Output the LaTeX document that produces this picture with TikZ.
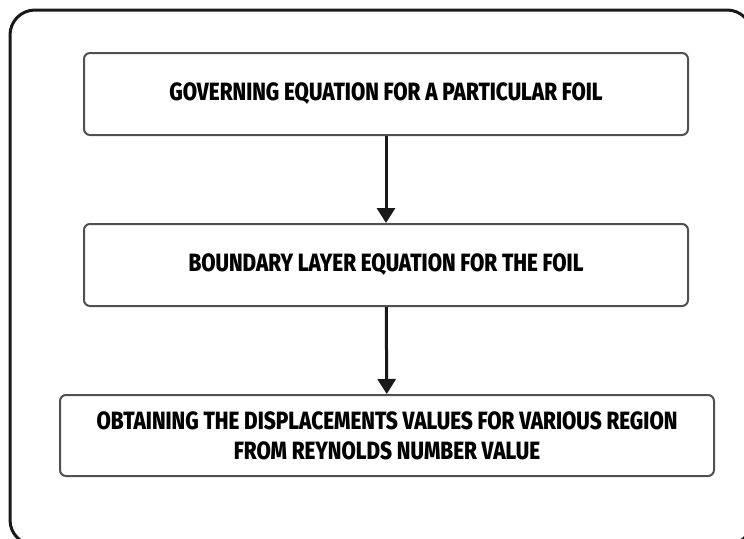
\documentclass[tikz,border=0pt]{standalone}
\definecolor{frameBlack}{RGB}{25,25,25}
\definecolor{boxGray}{RGB}{80,80,80}
\usepackage{fontspec}
\setmainfont{Fira Sans}[FakeStretch=0.83,BoldFont={Fira Sans ExtraBold}]
\usetikzlibrary{arrows.meta}

\tikzset{
  stage/.style={rectangle,draw=boxGray,line width=2pt,rounded corners=6pt,
    fill=white,font=\fontsize{25}{30}\selectfont\bfseries,align=center},
  flow/.style={-{Triangle[width=18pt,length=15pt]},line width=3pt,frameBlack}
}

\begin{document}
\begin{tikzpicture}[x=1pt,y=-1pt]
\useasboundingbox (0,0) rectangle (744,538);
\clip (0,0) rectangle (744,538);
% outer frame, partly cut by the page edge
\draw[line width=3pt,frameBlack,rounded corners=25pt] (10,10) rectangle (752,545);

\node[stage,minimum width=604pt,minimum height=82pt] (gov) at (386,94) {GOVERNING EQUATION FOR A PARTICULAR FOIL};
\node[stage,minimum width=604pt,minimum height=82pt] (bl) at (386,265) {BOUNDARY LAYER EQUATION FOR THE FOIL};
\node[stage,minimum width=654pt,minimum height=81pt] (disp) at (387,435.5) {OBTAINING THE DISPLACEMENTS VALUES FOR VARIOUS REGION\\FROM REYNOLDS NUMBER VALUE};

\draw[flow] (gov) -- (bl);
\draw[flow] (bl) -- (disp);
\end{tikzpicture}
\end{document}
